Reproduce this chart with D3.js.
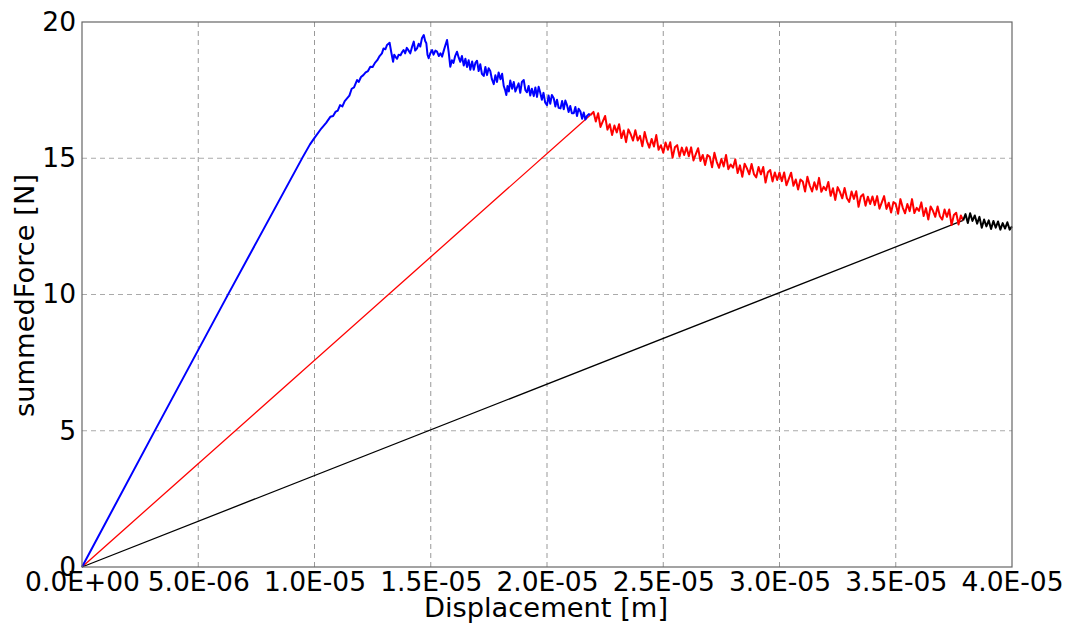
<!DOCTYPE html>
<html><head><meta charset="utf-8">
<script src="https://cdn.jsdelivr.net/npm/d3@7"></script>
<style>
html,body{margin:0;padding:0;background:#fff;}
text{font-family:"DejaVu Sans",sans-serif;fill:#000;}
</style></head>
<body><svg id="chart" width="1065" height="630"></svg>
<script>
// displacement in micrometres (x1e-6 m), force in N
const xTicks = [0, 5e-6, 1e-5, 1.5e-5, 2e-5, 2.5e-5, 3e-5, 3.5e-5, 4e-5];
const xTickLabels = ["0.0E+00","5.0E-06","1.0E-05","1.5E-05","2.0E-05","2.5E-05","3.0E-05","3.5E-05","4.0E-05"];
const yTicks = [0, 5, 10, 15, 20];
const yTickLabels = ["0","5","10","15","20"];

const bluePoints = [[0,0],[3.1,4.95],[6.25,9.95],[9.5,15.05],[9.8,15.5],[10.0,15.75],[10.3,16.1],[10.5,16.3],[10.68,16.52],[10.8,16.55],[10.9,16.7],[11.0,16.75],[11.1,16.95],[11.2,16.9],[11.3,17.1],[11.4,17.2],[11.5,17.3],[11.6,17.55],[11.7,17.6],[11.83,17.87],[11.9,17.8],[12.0,17.98],[12.1,18.05],[12.2,18.15],[12.3,18.2],[12.4,18.36],[12.5,18.35],[12.6,18.5],[12.7,18.6],[12.8,18.75],[12.9,18.85],[12.97,19.03],[13.05,19.0],[13.12,19.16],[13.23,19.24],[13.3,18.9],[13.38,18.54],[13.43,18.8],[13.48,18.73],[13.55,18.65],[13.62,18.8],[13.7,18.78],[13.77,18.9],[13.83,18.97],[13.9,18.85],[13.97,19.05],[14.05,18.95],[14.12,18.85],[14.2,19.1],[14.27,19.28],[14.33,18.95],[14.41,19.03],[14.48,19.2],[14.55,19.1],[14.62,19.4],[14.7,19.52],[14.76,19.3],[14.81,19.22],[14.86,18.8],[14.91,18.67],[14.98,18.85],[15.06,18.97],[15.12,18.8],[15.2,18.95],[15.27,18.91],[15.35,18.75],[15.42,18.85],[15.49,18.73],[15.56,18.95],[15.63,19.15],[15.7,19.34],[15.77,18.9],[15.84,18.36],[15.91,18.6],[15.98,18.5],[16.05,18.75],[16.13,18.91],[16.2,18.7],[16.27,18.54],[16.34,18.75],[16.42,18.4],[16.49,18.65],[16.56,18.35],[16.63,18.6],[16.7,18.25],[16.78,18.55],[16.85,18.25],[16.92,18.5],[16.99,18.58],[17.06,18.2],[17.13,18.45],[17.2,18.1],[17.28,18.02],[17.35,18.35],[17.42,18.05],[17.49,18.3],[17.56,18.2],[17.63,17.9],[17.71,17.72],[17.78,18.05],[17.85,17.8],[17.92,18.15],[18.0,17.9],[18.07,18.1],[18.14,17.65],[18.2,17.5],[18.25,17.32],[18.3,17.65],[18.36,17.45],[18.42,17.85],[18.5,17.55],[18.57,17.8],[18.64,17.45],[18.71,17.6],[18.78,17.75],[18.85,17.4],[18.92,17.8],[19.0,17.87],[19.07,17.5],[19.14,17.42],[19.21,17.65],[19.28,17.3],[19.35,17.55],[19.43,17.28],[19.5,17.6],[19.57,17.25],[19.64,17.62],[19.71,17.4],[19.78,17.15],[19.85,17.4],[19.92,17.05],[20.0,16.95],[20.07,17.3],[20.14,17.0],[20.21,17.32],[20.29,17.2],[20.36,16.9],[20.43,17.15],[20.5,16.85],[20.58,16.83],[20.65,17.1],[20.72,16.8],[20.79,17.12],[20.86,16.95],[20.93,16.7],[21.0,16.92],[21.07,16.65],[21.15,16.65],[21.22,16.88],[21.29,16.55],[21.36,16.82],[21.44,16.71],[21.51,16.45],[21.58,16.68],[21.65,16.42],[21.72,16.55],[21.8,16.62],[21.87,16.59]];

const redPoints = [[21.87,16.59],[22.0,16.7],[22.1,16.35],[22.2,16.65],[22.3,16.15],[22.4,16.35],[22.5,16.55],[22.6,16.05],[22.7,16.25],[22.8,15.85],[22.9,16.2],
[23.0,15.95],[23.1,16.25],[23.2,15.74],[23.3,16.02],[23.4,15.59],[23.5,16.06],[23.6,15.88],[23.7,15.65],[23.8,16.03],[23.9,15.65],
[24.0,15.82],[24.1,15.44],[24.2,15.96],[24.3,15.62],[24.4,15.39],[24.5,15.71],[24.6,15.43],[24.7,15.85],[24.8,15.31],[24.9,15.48],
[25.0,15.2],[25.1,15.58],[25.2,15.31],[25.3,15.59],[25.4,15.02],[25.5,15.4],[25.6,15.48],[25.7,15.06],[25.8,15.39],[25.9,15.12],
[26.0,15.4],[26.1,15.07],[26.2,15.4],[26.3,14.92],[26.4,15.15],[26.5,15.37],[26.6,14.9],[26.7,15.12],[26.8,14.75],[26.9,15.12],
[27.0,15.05],[27.1,14.67],[27.2,15.2],[27.3,14.87],[27.4,14.65],[27.5,14.97],[27.6,14.7],[27.7,15.12],[27.8,14.6],[27.9,14.77],
[28.0,14.65],[28.1,14.96],[28.2,14.46],[28.3,14.74],[28.4,14.32],[28.5,14.8],[28.6,14.63],[28.7,14.41],[28.8,14.79],[28.9,14.42],
[29.0,14.3],[29.1,14.68],[29.2,14.41],[29.3,14.68],[29.4,14.11],[29.5,14.49],[29.6,14.57],[29.7,14.15],[29.8,14.48],[29.9,14.2],
[30.0,14.48],[30.1,14.16],[30.2,14.48],[30.3,14.01],[30.4,14.24],[30.5,14.47],[30.6,13.99],[30.7,14.22],[30.8,13.85],[30.9,14.22],
[31.0,14.15],[31.1,13.78],[31.2,14.32],[31.3,14.0],[31.4,13.78],[31.5,14.12],[31.6,13.85],[31.7,14.28],[31.8,13.77],[31.9,13.95],
[32.0,13.83],[32.1,14.13],[32.2,13.62],[32.3,13.9],[32.4,13.47],[32.5,13.94],[32.6,13.76],[32.7,13.53],[32.8,13.91],[32.9,13.53],
[33.0,13.4],[33.1,13.78],[33.2,13.51],[33.3,13.79],[33.4,13.22],[33.5,13.6],[33.6,13.68],[33.7,13.26],[33.8,13.59],[33.9,13.32],
[34.0,13.6],[34.1,13.28],[34.2,13.61],[34.3,13.15],[34.4,13.38],[34.5,13.61],[34.6,13.14],[34.7,13.37],[34.8,13.01],[34.9,13.39],
[35.0,13.32],[35.1,12.96],[35.2,13.5],[35.3,13.19],[35.4,12.98],[35.5,13.32],[35.6,13.06],[35.7,13.5],[35.8,12.99],[35.9,13.18],
[36.0,13.07],[36.1,13.38],[36.2,12.88],[36.3,13.17],[36.4,12.75],[36.5,13.23],[36.6,13.07],[36.7,12.85],[36.8,13.23],[36.9,12.87],
[37.0,12.75],[37.1,13.12],[37.2,12.85],[37.3,13.12],[37.4,12.55],[37.5,12.92],[37.6,13.0],[37.7,12.57],[37.8,12.9],[37.9,12.72]];

const blackPoints = [[37.9,12.72],[38.0,12.95],[38.1,12.62],[38.2,12.98],[38.3,12.7],[38.4,12.9],[38.5,12.6],[38.6,12.85],[38.7,12.45],[38.8,12.75],[38.9,12.5],[39.0,12.72],[39.1,12.4],[39.2,12.7],[39.3,12.45],[39.4,12.68],[39.5,12.38],[39.6,12.62],[39.7,12.42],[39.8,12.65],[39.9,12.38],[40.0,12.5]];

const redSecant = [[0,0],[21.87,16.59]];
const blackSecant = [[0,0],[37.9,12.72]];

const svg = d3.select("#chart");
const m = {l:82, r:1012, t:22, b:567};
const x = d3.scaleLinear().domain([0,4e-5]).range([m.l,m.r]);
const y = d3.scaleLinear().domain([0,20]).range([m.b,m.t]);

// grid
svg.append("g").selectAll("line").data(xTicks.slice(1,-1)).join("line")
  .attr("x1",d=>x(d)).attr("x2",d=>x(d)).attr("y1",m.t).attr("y2",m.b)
  .attr("stroke","#999").attr("stroke-width",1).attr("stroke-dasharray","5,4");
svg.append("g").selectAll("line").data(yTicks.slice(1,-1)).join("line")
  .attr("y1",d=>y(d)).attr("y2",d=>y(d)).attr("x1",m.l).attr("x2",m.r)
  .attr("stroke","#aaa").attr("stroke-width",1).attr("stroke-dasharray","5,4");

const line = d3.line().x(d=>x(d[0]*1e-6)).y(d=>y(d[1]));
const draw = (data,color,w)=>svg.append("path").datum(data).attr("d",line)
  .attr("fill","none").attr("stroke",color).attr("stroke-width",w).attr("stroke-linejoin","round");
draw(redSecant,"#ff0000",1.3);
draw(blackSecant,"#000",1.3);
draw(bluePoints,"#0000ff",2.0);
draw(redPoints,"#ff0000",2.0);
draw(blackPoints,"#000",2.0);

// frame
svg.append("rect").attr("x",m.l).attr("y",m.t).attr("width",m.r-m.l).attr("height",m.b-m.t)
  .attr("fill","none").attr("stroke","#666").attr("stroke-width",1.2);

const xAxis = d3.axisBottom(x).tickValues(xTicks).tickFormat((d,i)=>xTickLabels[i]).tickSize(0).tickPadding(5);
const gx = svg.append("g").attr("transform",`translate(0,${m.b})`).call(xAxis);
gx.select(".domain").remove();
gx.selectAll("text").attr("font-size",26.5).attr("font-family","DejaVu Sans").attr("fill","#000");

const yAxis = d3.axisLeft(y).tickValues(yTicks).tickFormat((d,i)=>yTickLabels[i]).tickSize(0).tickPadding(6);
const gy = svg.append("g").attr("transform",`translate(${m.l},0)`).call(yAxis);
gy.select(".domain").remove();
gy.selectAll("text").attr("font-size",26.5).attr("font-family","DejaVu Sans").attr("fill","#000");

svg.append("text").attr("x",546).attr("y",617).attr("text-anchor","middle")
  .attr("font-size",27.3).text("Displacement [m]");
svg.append("text").attr("transform",`translate(34,295.5) rotate(-90)`).attr("text-anchor","middle")
  .attr("font-size",27.3).text("summedForce [N]");
</script></body></html>
